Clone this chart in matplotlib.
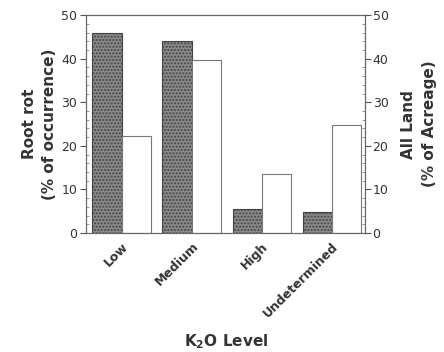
import matplotlib
matplotlib.use("Agg")
import matplotlib.pyplot as plt
import numpy as np

categories = ["Low", "Medium", "High", "Undetermined"]
root_rot = [46, 44, 5.5, 4.8]
all_land = [22.3, 39.8, 13.5, 24.8]
yticks = [0, 10, 20, 30, 40, 50]

plt.rcParams['font.family'] = ['DejaVu Sans']

fig = plt.figure(figsize=(4.44, 3.52), dpi=100)
ax = fig.add_axes([0.194, 0.338, 0.628, 0.619])
x = np.arange(len(categories))
w = 0.42
ax.bar(x - w/2, root_rot, width=w, color='#8a8a8a', edgecolor='#444444',
       linewidth=0.8, hatch='.....')
ax.bar(x + w/2, all_land, width=w, color='white', edgecolor='#777777', linewidth=0.8)
ax.set_xlim(-0.51, 3.47)
ax.set_ylim(0, 50)
ax.set_yticks(yticks)
ax.set_yticks(np.arange(0, 51, 2), minor=True)
ax.set_xticks(x)
ax.set_xticklabels(categories, rotation=45, ha='right', rotation_mode='anchor',
                   fontsize=9, fontweight='bold', color='#333333')
ax.tick_params(axis='x', length=0, pad=5)
ax.tick_params(axis='y', which='major', direction='out', length=4.5, labelsize=9,
               colors='#555555', labelcolor='#333333', pad=2)
ax.tick_params(axis='y', which='minor', direction='in', length=2, colors='#888888')
for s in ax.spines.values():
    s.set_color('#666666')
    s.set_linewidth(0.8)

ax2 = ax.twinx()
ax2.set_ylim(0, 50)
ax2.set_yticks(yticks)
ax2.set_yticks(np.arange(0, 51, 2), minor=True)
ax2.tick_params(axis='y', which='major', direction='out', length=4.5, labelsize=9,
                colors='#555555', labelcolor='#333333', pad=1)
ax2.tick_params(axis='y', which='minor', direction='in', length=2, colors='#888888')
for s in ax2.spines.values():
    s.set_color('#666666')
    s.set_linewidth(0.8)

ax.set_ylabel("Root rot\n(% of occurrence)", fontsize=11, fontweight='bold',
              color='#333333', labelpad=3, linespacing=1.45)
ax2.set_ylabel("All Land\n(% of Acreage)", fontsize=11, fontweight='bold',
               color='#333333', labelpad=9, linespacing=1.45)
fig.text(0.51, 0.028, r"K$_\mathbf{2}$O Level", ha='center', va='center',
         fontsize=11, fontweight='bold', color='#333333')

fig.savefig("out.png", dpi=100)
